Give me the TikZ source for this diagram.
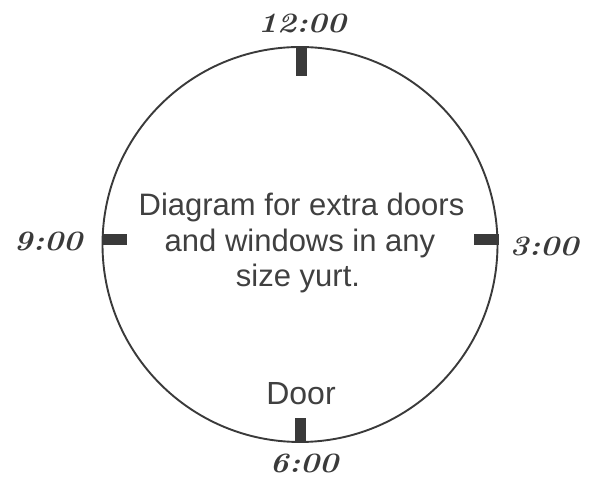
\documentclass[tikz,border=0pt]{standalone}
\usepackage{fontspec}
\newfontfamily\labelsans{Liberation Sans}
\definecolor{ink}{HTML}{3A3A3A}
\definecolor{txt}{HTML}{404040}
\tikzset{
  clockline/.style={draw=ink, line width=1.9pt},
  tickmark/.style={fill=ink, draw=none},
  timelabel/.style={text=ink, inner sep=0pt, font=\fontsize{28}{28}\selectfont\bfseries\itshape, xscale=1.15, transform shape},
  sanslabel/.style={text=txt, inner sep=0pt, font=\labelsans\fontsize{31}{35.5}\selectfont, align=center}
}
\begin{document}
\begin{tikzpicture}[x=1pt,y=1pt]
\useasboundingbox (0,0) rectangle (595,478);
\coordinate (c) at (300,233.5);
\draw[clockline] (c) circle (197.5);
% tick marks
\fill[tickmark] (295.5,430) rectangle (306.5,402);
\fill[tickmark] (102,243.5) rectangle (127,232.5);
\fill[tickmark] (474,243.5) rectangle (499,232.5);
\fill[tickmark] (295,60) rectangle (306,37);
% time labels
\node[timelabel] (t12) at (302,455) {12:00};
\node[timelabel] (t9) at (48,237) {9:00};
\node[timelabel] (t3) at (544,232) {3:00};
\node[timelabel] (t6) at (304,15) {6:00};
% texts
\node[sanslabel, anchor=base] (door) at (301,73) {\fontsize{32}{32}\selectfont Door};
\node[sanslabel, anchor=base] (l1) at (301.5,262) {Diagram for extra doors};
\node[sanslabel, anchor=base] (l2) at (300,226) {and windows in any};
\node[sanslabel, anchor=base] (l3) at (298,191) {size yurt.};
\end{tikzpicture}
\end{document}
